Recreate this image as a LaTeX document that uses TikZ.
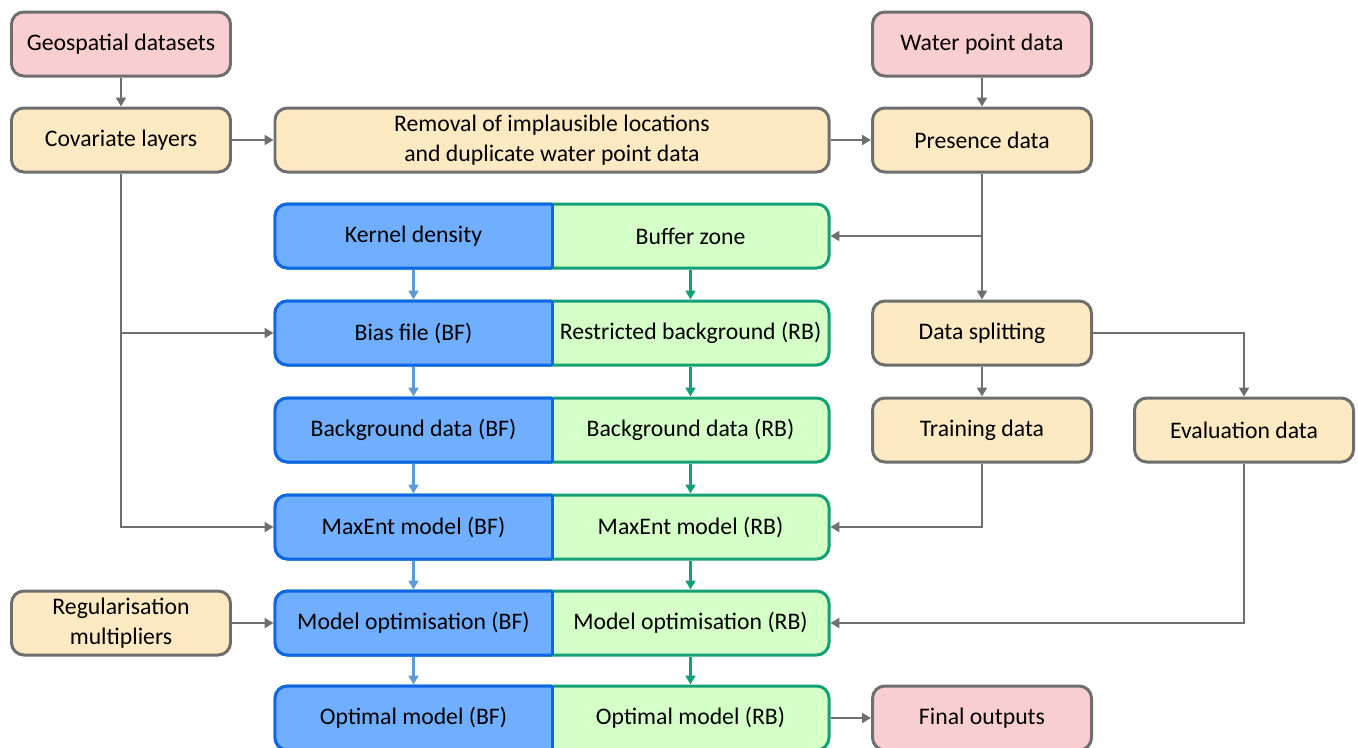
\documentclass[tikz,border=0pt]{standalone}
\usepackage{fontspec}
\setmainfont{Carlito}
\usetikzlibrary{arrows.meta}

\definecolor{srcfill}{HTML}{F9CED0}
\definecolor{stepfill}{HTML}{FDE9C2}
\definecolor{boxgray}{HTML}{6E6E6E}
\definecolor{bffill}{HTML}{70AEFF}
\definecolor{bfline}{HTML}{0E66E6}
\definecolor{bfarrow}{HTML}{5B9BD5}
\definecolor{rbfill}{HTML}{D4FFC6}
\definecolor{rbline}{HTML}{14A077}

\begin{document}
\begin{tikzpicture}[
    every node/.style={font=\fontsize{13.5}{17}\selectfont},
    box/.style={draw=boxgray, fill=#1, line width=1.7pt, rounded corners=7pt,
      minimum width=4.38cm, minimum height=1.28cm, align=center},
    half/.style={minimum width=5.54cm, minimum height=1.28cm, outer sep=0.85pt},
    bfpart/.style={draw=bfline, fill=bffill, line width=1.7pt, rounded corners=7pt},
    rbpart/.style={draw=rbline, fill=rbfill, line width=1.7pt, rounded corners=7pt},
    link/.style={draw=boxgray, line width=1.6pt, -{Triangle[length=5pt,width=5.5pt]}},
    bflink/.style={link, draw=bfarrow},
    rblink/.style={link, draw=rbline},
  ]
  \useasboundingbox (0,0) rectangle (27.16,-14.94);

  % Inputs
  \node[box=srcfill] (geo) at (2.42,-0.88) {Geospatial datasets};
  \node[box=srcfill] (water) at (19.64,-0.88) {Water point data};
  \node[box=stepfill] (cov) at (2.42,-2.80) {Covariate layers};
  \node[box=stepfill, minimum width=11.08cm] (clean) at (11.04,-2.80)
    {Removal of implausible locations\\and duplicate water point data};
  \node[box=stepfill] (pres) at (19.64,-2.80) {Presence data};

  % Data side
  \node[box=stepfill] (split) at (19.64,-6.66) {Data splitting};
  \node[box=stepfill] (train) at (19.64,-8.60) {Training data};
  \node[box=stepfill] (eval) at (24.88,-8.60) {Evaluation data};
  \node[box=stepfill] (reg) at (2.42,-12.46) {Regularisation\\multipliers};
  \node[box=srcfill] (final) at (19.64,-14.36) {Final outputs};

  % BF / RB rows
  \foreach \nm/\y/\lt/\rt in {
      kd/-4.72/{Kernel density}/{Buffer zone},
      bias/-6.66/{Bias file (BF)}/{Restricted background (RB)},
      bg/-8.60/{Background data (BF)}/{Background data (RB)},
      mx/-10.54/{MaxEnt model (BF)}/{MaxEnt model (RB)},
      opt/-12.46/{Model optimisation (BF)}/{Model optimisation (RB)},
      best/-14.36/{Optimal model (BF)}/{Optimal model (RB)}} {
    \filldraw[rbpart] (5.50,\y-0.64) rectangle (16.58,\y+0.64);
    \begin{scope}
      \clip (5.2,\y-0.9) rectangle (11.04,\y+0.9);
      \filldraw[bfpart] (5.50,\y-0.64) rectangle (16.58,\y+0.64);
    \end{scope}
    \draw[draw=bfline, line width=1.7pt] (11.04,\y-0.64) -- (11.04,\y+0.64);
    \node[half] (\nm L) at (8.27,\y) {\lt};
    \node[half] (\nm R) at (13.81,\y) {\rt};
  }

  % Arrows
  \draw[link] (geo) -- (cov);
  \draw[link] (water) -- (pres);
  \draw[link] (cov) -- (clean);
  \draw[link] (clean) -- (pres);
  \draw[link] (pres) -- (split);
  \coordinate (fork) at (pres.south |- kdR.east);
  \draw[link] (fork) -- (kdR.east);
  \draw[link] (cov.south) |- (mxL.west);
  \coordinate (covfork) at (cov.south |- biasL.west);
  \draw[link] (covfork) -- (biasL.west);
  \draw[link] (split) -- (train);
  \draw[link] (split.east) -| (eval.north);
  \draw[link] (train.south) |- (mxR.east);
  \draw[link] (eval.south) |- (optR.east);
  \draw[link] (reg) -- (optL);
  \draw[link] (bestR) -- (final);
  \foreach \a/\b in {kd/bias, bias/bg, bg/mx, mx/opt, opt/best} {
    \draw[bflink] (\a L) -- (\b L);
    \draw[rblink] (\a R) -- (\b R);
  }
\end{tikzpicture}
\end{document}
